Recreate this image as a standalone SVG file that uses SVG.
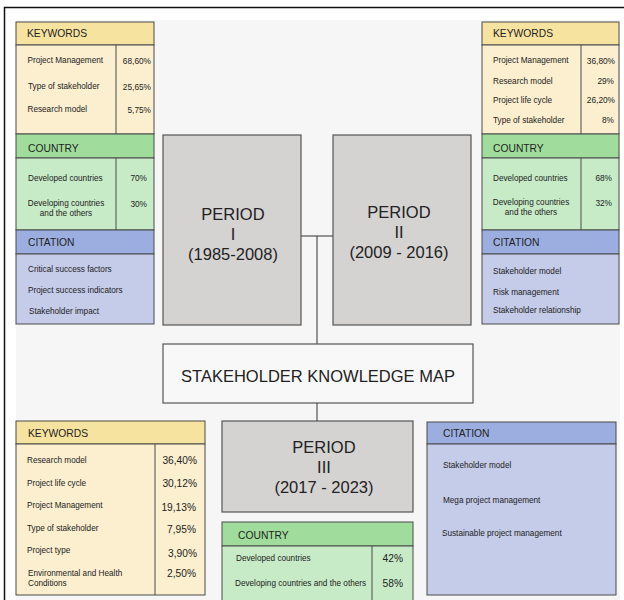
<svg xmlns="http://www.w3.org/2000/svg" width="624" height="600" viewBox="0 0 624 600">
<style>
text{font-family:"Liberation Sans",Arial,sans-serif;fill:#222}
.hd{font-size:10.3px}
.it{font-size:8.2px}
.pc{font-size:8.3px;text-anchor:end}
.pcb{font-size:10.2px;text-anchor:end}
.big{font-size:16.5px;text-anchor:middle}
.kh{fill:#f7e3a0;stroke:#4a4a4a;stroke-width:1}
.kb{fill:#fbefcf;stroke:#4a4a4a;stroke-width:1}
.ch{fill:#a0dd9c;stroke:#4a4a4a;stroke-width:1}
.cb{fill:#c8ebc7;stroke:#4a4a4a;stroke-width:1}
.th{fill:#9caee0;stroke:#4a4a4a;stroke-width:1}
.tb{fill:#c5cce9;stroke:#4a4a4a;stroke-width:1}
.pb{fill:#d5d2d2;stroke:#555;stroke-width:1.2}
.dv{stroke:#4a4a4a;stroke-width:1}
.ln{stroke:#333;stroke-width:1;fill:none}
</style>
<rect x="0" y="0" width="624" height="600" fill="#fff"/>
<rect x="16" y="20" width="604" height="580" fill="#f7f6f6"/>
<path d="M4.5,600 V7.5 H624" fill="none" stroke="#111" stroke-width="1.5"/>

<g id="connectors">
<path class="ln" d="M301,236 H333 M317,236 V344 M317,403 V421"/>
</g>

<g id="tl-keywords">
<rect class="kh" x="16" y="22" width="138" height="23"/>
<rect class="kb" x="16" y="45" width="138" height="89"/>
<line class="dv" x1="116" y1="45" x2="116" y2="134"/>
<text class="hd" x="27" y="37">KEYWORDS</text>
<text class="it" x="27.5" y="63">Project Management</text>
<text class="it" x="28" y="89">Type of stakeholder</text>
<text class="it" x="27.5" y="112">Research model</text>
<text class="pc" x="151" y="64">68,60%</text>
<text class="pc" x="151" y="90">25,65%</text>
<text class="pc" x="151" y="113">5,75%</text>
</g>
<g id="tl-country">
<rect class="ch" x="16" y="134" width="138" height="24"/>
<rect class="cb" x="16" y="158" width="138" height="72"/>
<line class="dv" x1="116" y1="158" x2="116" y2="230"/>
<text class="hd" x="28" y="152">COUNTRY</text>
<text class="it" x="28" y="181">Developed countries</text>
<text class="it" x="66" y="206" text-anchor="middle">Developing countries</text>
<text class="it" x="66" y="216" text-anchor="middle">and the others</text>
<text class="pc" x="147" y="181">70%</text>
<text class="pc" x="147" y="207">30%</text>
</g>
<g id="tl-citation">
<rect class="th" x="16" y="230" width="138" height="24"/>
<rect class="tb" x="16" y="254" width="138" height="70"/>
<text class="hd" x="28" y="246">CITATION</text>
<text class="it" x="28" y="272">Critical success factors</text>
<text class="it" x="28" y="293">Project success indicators</text>
<text class="it" x="29" y="314">Stakeholder impact</text>
</g>

<g id="tr-keywords">
<rect class="kh" x="482" y="22" width="137" height="23"/>
<rect class="kb" x="482" y="45" width="137" height="89"/>
<line class="dv" x1="581" y1="45" x2="581" y2="134"/>
<text class="hd" x="493" y="37">KEYWORDS</text>
<text class="it" x="493" y="63">Project Management</text>
<text class="it" x="493" y="84">Research model</text>
<text class="it" x="493" y="103">Project life cycle</text>
<text class="it" x="493" y="123">Type of stakeholder</text>
<text class="pc" x="615" y="64">36,80%</text>
<text class="pc" x="614" y="84">29%</text>
<text class="pc" x="615" y="103">26,20%</text>
<text class="pc" x="614" y="123">8%</text>
</g>
<g id="tr-country">
<rect class="ch" x="482" y="134" width="137" height="24"/>
<rect class="cb" x="482" y="158" width="137" height="72"/>
<line class="dv" x1="581" y1="158" x2="581" y2="230"/>
<text class="hd" x="493" y="152">COUNTRY</text>
<text class="it" x="493" y="181">Developed countries</text>
<text class="it" x="531" y="205" text-anchor="middle">Developing countries</text>
<text class="it" x="531" y="215" text-anchor="middle">and the others</text>
<text class="pc" x="612" y="181">68%</text>
<text class="pc" x="612" y="206">32%</text>
</g>
<g id="tr-citation">
<rect class="th" x="482" y="230" width="137" height="24"/>
<rect class="tb" x="482" y="254" width="137" height="70"/>
<text class="hd" x="493" y="246">CITATION</text>
<text class="it" x="493" y="274">Stakeholder model</text>
<text class="it" x="493" y="295">Risk management</text>
<text class="it" x="493" y="313">Stakeholder relationship</text>
</g>

<g id="period1">
<rect class="pb" x="163" y="135" width="138" height="190"/>
<text class="big" x="233" y="220">PERIOD</text>
<text class="big" x="233" y="240">I</text>
<text class="big" x="233" y="260">(1985-2008)</text>
</g>
<g id="period2">
<rect class="pb" x="333" y="135" width="138" height="190"/>
<text class="big" x="399" y="218">PERIOD</text>
<text class="big" x="399" y="238">II</text>
<text class="big" x="399" y="258">(2009 - 2016)</text>
</g>

<g id="map">
<rect x="163" y="344" width="310" height="59" fill="#f8f8f8" stroke="#555" stroke-width="1.2"/>
<text class="big" x="318" y="382">STAKEHOLDER KNOWLEDGE MAP</text>
</g>

<g id="period3">
<rect class="pb" x="222" y="421" width="191" height="91"/>
<text class="big" x="324" y="453">PERIOD</text>
<text class="big" x="324" y="473">III</text>
<text class="big" x="324" y="493">(2017 - 2023)</text>
</g>

<g id="bl-keywords">
<rect class="kh" x="16" y="421" width="189" height="23"/>
<rect class="kb" x="16" y="444" width="189" height="151"/>
<line class="dv" x1="155" y1="444" x2="155" y2="595"/>
<text class="hd" x="28" y="437">KEYWORDS</text>
<text class="it" x="27" y="463">Research model</text>
<text class="it" x="27" y="486">Project life cycle</text>
<text class="it" x="27" y="508">Project Management</text>
<text class="it" x="27" y="531">Type of stakeholder</text>
<text class="it" x="27" y="553">Project type</text>
<text class="it" x="28" y="576">Environmental and Health</text>
<text class="it" x="28" y="586">Conditions</text>
<text class="pcb" x="197" y="464">36,40%</text>
<text class="pcb" x="197" y="487">30,12%</text>
<text class="pcb" x="196" y="511">19,13%</text>
<text class="pcb" x="196" y="533">7,95%</text>
<text class="pcb" x="197" y="557">3,90%</text>
<text class="pcb" x="196" y="577">2,50%</text>
</g>

<g id="b-country">
<rect class="ch" x="222" y="522" width="191" height="24"/>
<rect class="cb" x="222" y="546" width="191" height="60"/>
<line class="dv" x1="372" y1="546" x2="372" y2="600"/>
<text class="hd" x="238" y="539">COUNTRY</text>
<text class="it" x="236" y="561">Developed countries</text>
<text class="it" x="235" y="586">Developing countries and the others</text>
<text class="pcb" x="403" y="562">42%</text>
<text class="pcb" x="403" y="587">58%</text>
</g>

<g id="br-citation">
<rect class="th" x="427" y="422" width="189" height="22"/>
<rect class="tb" x="427" y="444" width="189" height="151"/>
<text class="hd" x="443" y="437">CITATION</text>
<text class="it" x="443" y="468">Stakeholder model</text>
<text class="it" x="443" y="503">Mega project management</text>
<text class="it" x="442" y="536">Sustainable project management</text>
</g>
</svg>
